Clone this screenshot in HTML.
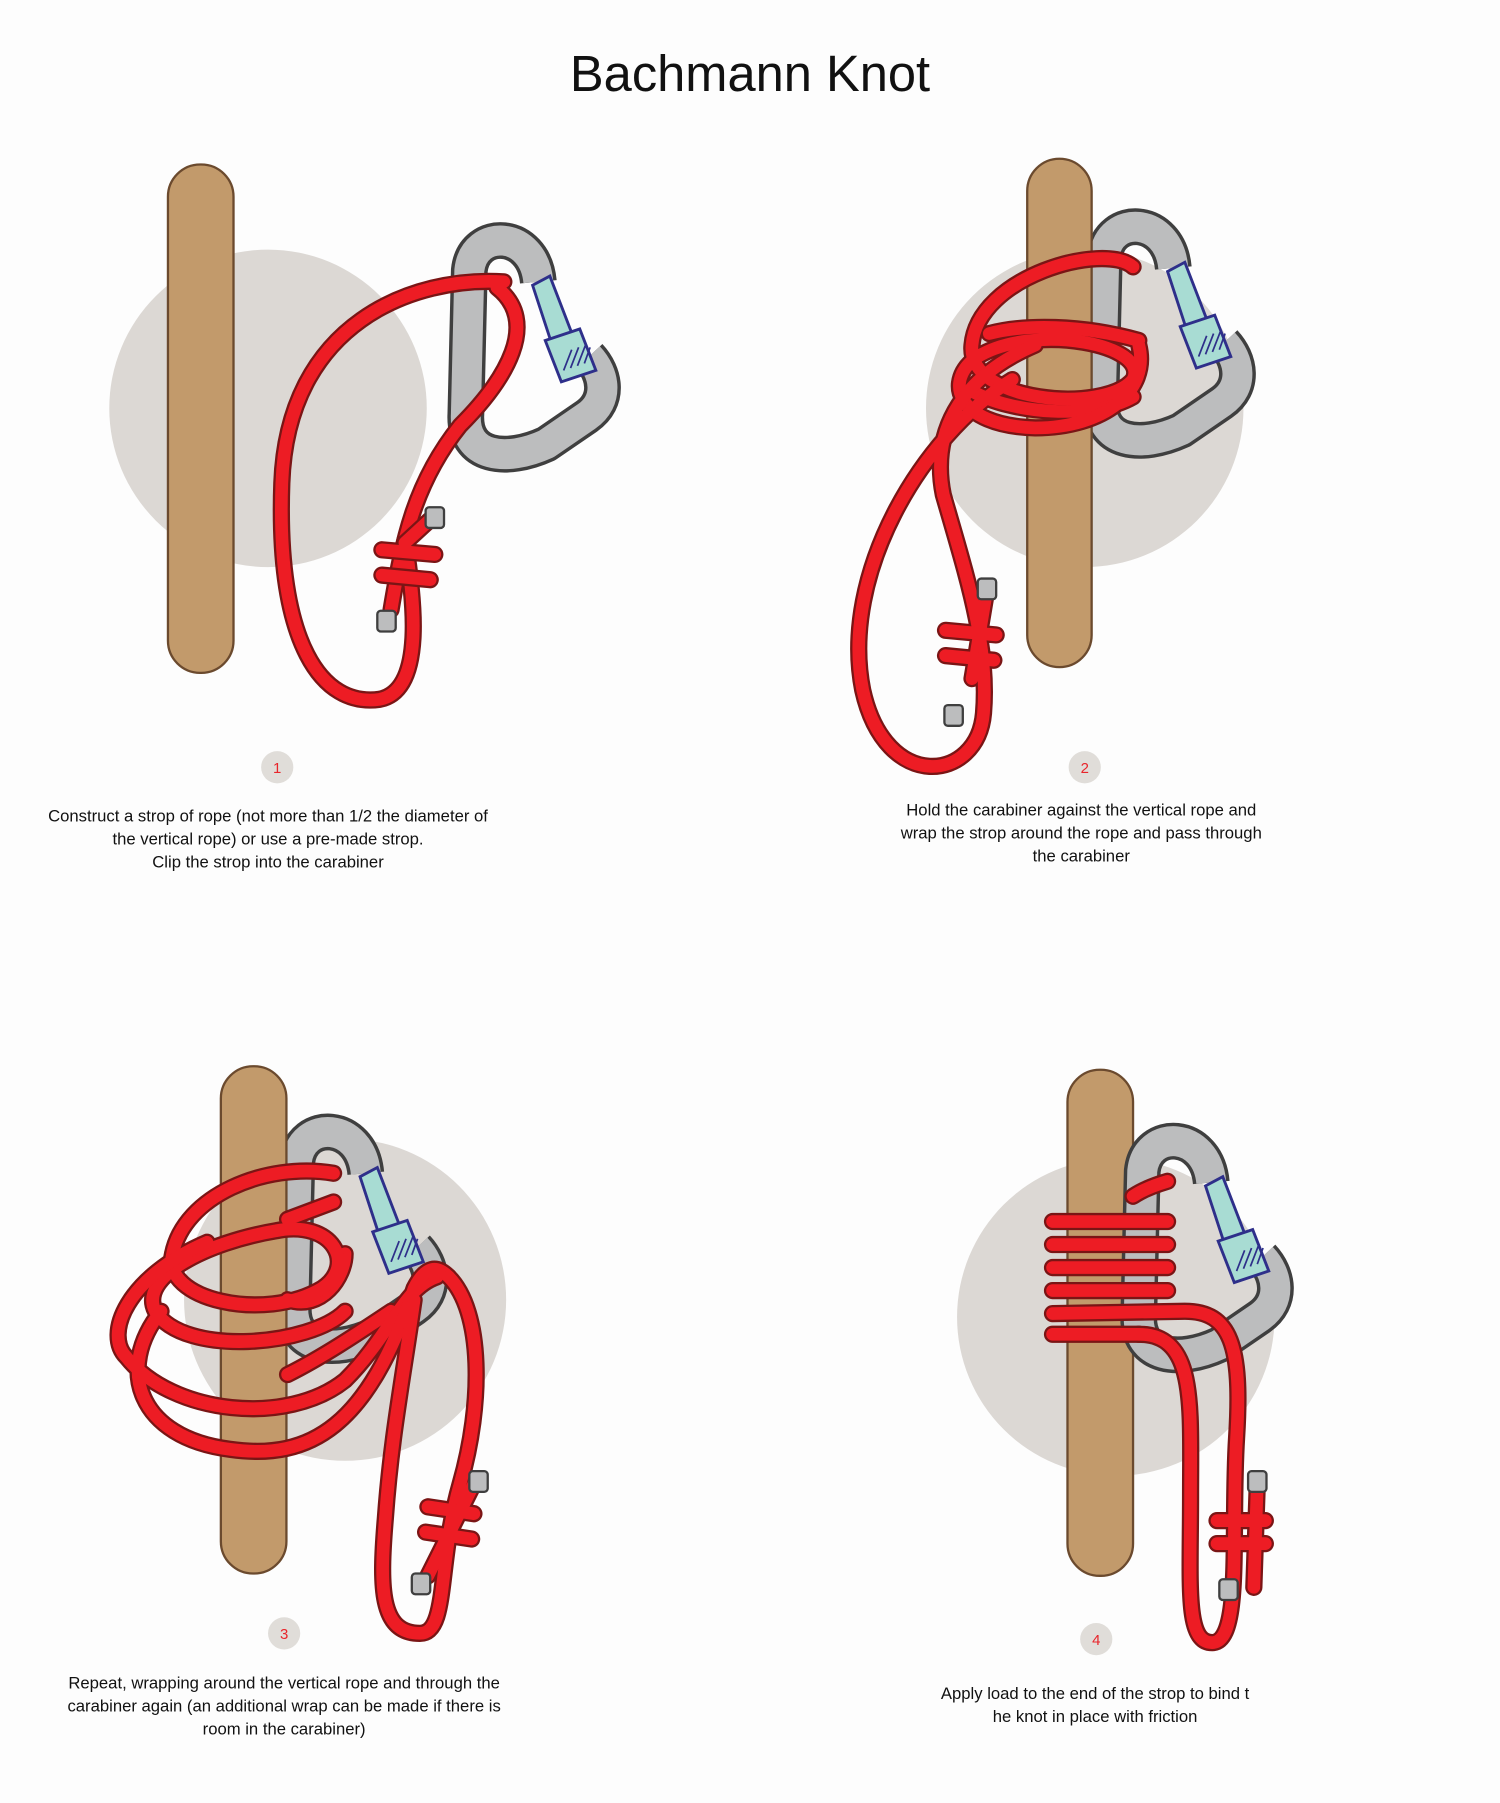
<!DOCTYPE html>
<html><head><meta charset="utf-8"><style>
html,body{margin:0;padding:0;background:#fdfdfd;}
svg{display:block}
.cap{font-family:"Liberation Sans",sans-serif;font-size:14.5px;fill:#111;text-anchor:middle}
.num{font-family:"Liberation Sans",sans-serif;font-size:13px;fill:#e8252b;text-anchor:middle}
.ro{fill:none;stroke:#7a1515;stroke-width:15;stroke-linecap:round;stroke-linejoin:round}
.ri{fill:none;stroke:#ed1c24;stroke-width:11;stroke-linecap:round;stroke-linejoin:round}
.ro path,.ri path{fill:none}
</style></head><body>
<svg width="1500" height="1803" viewBox="0 0 1304 1567.5" preserveAspectRatio="none" xmlns="http://www.w3.org/2000/svg">
<defs>
<g id="cara">
  <path d="M468,245 C464,200 412,198 408,235 L405,360 C403,398 440,402 475,386 L510,362 C530,348 526,325 512,310" fill="none" stroke="#3f3f3f" stroke-width="32" stroke-linejoin="round"/>
  <path d="M468,245 C464,200 412,198 408,235 L405,360 C403,398 440,402 475,386 L510,362 C530,348 526,325 512,310" fill="none" stroke="#bcbdbe" stroke-width="26" stroke-linejoin="round"/>
  <path d="M463,248 L478,240 L498,292 L480,300 Z" fill="#a8dcd3" stroke="#2e2f8a" stroke-width="2.5"/>
  <path d="M474,296 L504,286 L518,322 L488,332 Z" fill="#a8dcd3" stroke="#2e2f8a" stroke-width="2.5"/>
  <path d="M490,322 L497,304 M496,320 L503,302 M502,318 L509,300 M508,316 L513,302" stroke="#2e2f8a" stroke-width="1.5"/>
</g>
<rect id="capblk" x="-8" y="-9" width="16" height="18" rx="3" fill="#bcbdbe" stroke="#3f3f3f" stroke-width="2"/>
<g id="r1"><path d="M438,245 C360,240 250,280 245,420 C240,560 280,615 330,608 C370,600 360,520 352,470"/>
<path d="M432,250 C470,280 440,330 400,370 C360,420 350,470 340,530"/></g>
<g id="r2"><path d="M985,232 C960,210 850,240 845,300 C840,350 960,360 985,330 C1000,300 900,280 850,310 C820,330 830,370 900,372 C960,372 1000,340 990,300"/>
<path d="M880,330 C800,380 730,500 750,600 C770,690 850,680 855,620 C860,560 840,500 820,430 C810,380 830,330 900,300"/>
<path d="M845,590 L858,512"/></g>
<g id="r3"><path d="M290,1020 C230,1010 160,1040 150,1090 C140,1130 230,1150 280,1120 C310,1100 290,1060 240,1070 C180,1080 120,1110 135,1140 C160,1180 270,1170 300,1140"/>
<path d="M180,1080 C110,1110 90,1160 110,1180 C150,1230 250,1240 300,1200 C340,1160 350,1120 380,1110"/>
<path d="M140,1140 C100,1190 120,1250 200,1260 C270,1270 320,1240 360,1120 C370,1100 380,1100 390,1110"/>
<path d="M390,1110 C420,1140 420,1220 400,1290 C380,1360 390,1420 365,1420 C330,1420 330,1380 335,1320 C340,1250 350,1200 360,1130"/>
<path d="M372,1370 L412,1290"/></g>
<g id="r4"><path d="M1015,1027 C995,1033 988,1038 985,1040"/>
<path d="M915,1062 L1015,1062 M915,1082 L1015,1082 M915,1102 L1015,1102 M915,1122 L1015,1122"/>
<path d="M915,1142 L1030,1140 C1070,1140 1080,1170 1075,1250 C1070,1330 1080,1425 1055,1428 C1030,1430 1035,1380 1035,1300 C1035,1220 1040,1160 990,1160"/>
<path d="M915,1160 L990,1160"/><path d="M1090,1380 L1093,1290"/></g>
</defs>
<rect width="1304" height="1568" fill="#fdfdfd"/>
<text x="652" y="79" font-family="Liberation Sans,sans-serif" font-size="44" text-anchor="middle" fill="#111">Bachmann Knot</text>

<!-- Panel 1 -->
<circle cx="233" cy="355" r="138" fill="#dcd8d4"/>
<rect x="146" y="143" width="57" height="442" rx="28" fill="#c29a6b" stroke="#6b4a2e" stroke-width="2"/>
<use href="#cara"/>
<g class="ro"><use href="#r1"/></g><g class="ri"><use href="#r1"/></g>
<g class="ro"><path d="M352,472 L378,448"/><path d="M332,478 L378,482 M332,500 L374,504"/></g>
<g class="ri"><path d="M352,472 L378,448"/><path d="M332,478 L378,482 M332,500 L374,504"/></g>
<use href="#capblk" x="378" y="450"/><use href="#capblk" x="336" y="540"/>
<circle cx="241" cy="667" r="14" fill="#e0ddd9"/><text class="num" x="241" y="672">1</text>
<text class="cap" x="233" y="714">Construct a strop of rope (not more than 1/2 the diameter of</text>
<text class="cap" x="233" y="734">the vertical rope) or use a pre-made strop.</text>
<text class="cap" x="233" y="754">Clip the strop into the carabiner</text>

<!-- Panel 2 -->
<circle cx="943" cy="355" r="138" fill="#dcd8d4"/>
<use href="#cara" transform="translate(552,-12)"/>
<rect x="893" y="138" width="56" height="442" rx="28" fill="#c29a6b" stroke="#6b4a2e" stroke-width="2"/>
<g class="ro"><path d="M860,290 C890,282 940,282 990,296"/><path d="M845,340 C880,360 950,365 985,345"/><use href="#r2"/><path d="M822,548 L866,552 M822,570 L864,574"/></g>
<g class="ri"><path d="M860,290 C890,282 940,282 990,296"/><path d="M845,340 C880,360 950,365 985,345"/><use href="#r2"/><path d="M822,548 L866,552 M822,570 L864,574"/></g>
<use href="#capblk" x="858" y="512"/><use href="#capblk" x="829" y="622"/>
<circle cx="943" cy="667" r="14" fill="#e0ddd9"/><text class="num" x="943" y="672">2</text>
<text class="cap" x="940" y="709">Hold the carabiner against the vertical rope and</text>
<text class="cap" x="940" y="729">wrap the strop around the rope and pass through</text>
<text class="cap" x="940" y="749">the carabiner</text>

<!-- Panel 3 -->
<circle cx="300" cy="1130" r="140" fill="#dcd8d4"/>
<use href="#cara" transform="translate(-150,775)"/>
<rect x="192" y="927" width="57" height="441" rx="28" fill="#c29a6b" stroke="#6b4a2e" stroke-width="2"/>
<g class="ro"><path d="M250,1060 L290,1045"/><path d="M250,1130 C280,1140 300,1110 300,1090"/><path d="M250,1195 C280,1180 310,1160 340,1140"/><use href="#r3"/><path d="M372,1310 L412,1316 M370,1332 L410,1338"/></g>
<g class="ri"><path d="M250,1060 L290,1045"/><path d="M250,1130 C280,1140 300,1110 300,1090"/><path d="M250,1195 C280,1180 310,1160 340,1140"/><use href="#r3"/><path d="M372,1310 L412,1316 M370,1332 L410,1338"/></g>
<use href="#capblk" x="416" y="1288"/><use href="#capblk" x="366" y="1377"/>
<circle cx="247" cy="1420" r="14" fill="#e0ddd9"/><text class="num" x="247" y="1425">3</text>
<text class="cap" x="247" y="1468">Repeat, wrapping around the vertical rope and through the</text>
<text class="cap" x="247" y="1488">carabiner again (an additional wrap can be made if there is</text>
<text class="cap" x="247" y="1508">room in the carabiner)</text>

<!-- Panel 4 -->
<circle cx="970" cy="1145" r="138" fill="#dcd8d4"/>
<rect x="928" y="930" width="57" height="440" rx="28" fill="#c29a6b" stroke="#6b4a2e" stroke-width="2"/>
<use href="#cara" transform="translate(585,783)"/>
<g class="ro"><use href="#r4"/><path d="M1058,1322 L1100,1322 M1058,1342 L1100,1342"/></g>
<g class="ri"><use href="#r4"/><path d="M1058,1322 L1100,1322 M1058,1342 L1100,1342"/></g>
<use href="#capblk" x="1093" y="1288"/><use href="#capblk" x="1068" y="1382"/>
<circle cx="953" cy="1425" r="14" fill="#e0ddd9"/><text class="num" x="953" y="1430">4</text>
<text class="cap" x="952" y="1477">Apply load to the end of the strop to bind t</text>
<text class="cap" x="952" y="1497">he knot in place with friction</text>
</svg>
</body></html>
